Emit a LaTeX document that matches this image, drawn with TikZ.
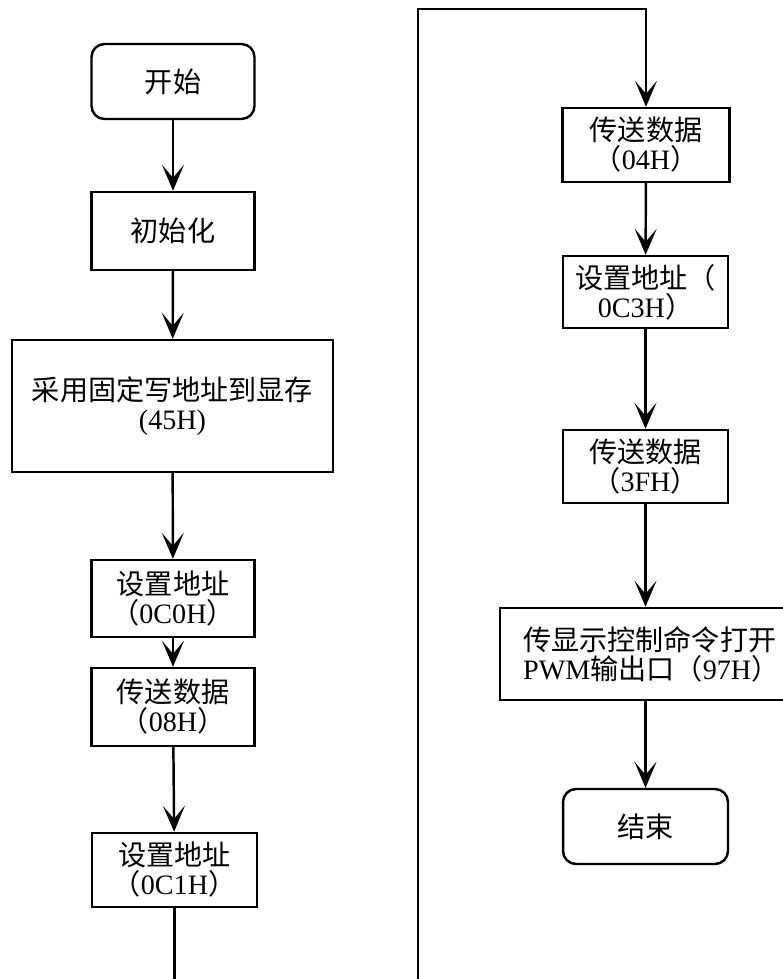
\documentclass[tikz,border=0pt]{standalone}
\usepackage{fontspec}
\setmainfont{Liberation Serif}
\newfontfamily\cjk{Noto Sans CJK SC}
\newcommand{\zh}[1]{{\cjk #1}}
\usetikzlibrary{arrows.meta}

\begin{document}
\begin{tikzpicture}[x=0.02cm,y=-0.02cm,
  box/.style={draw,line width=1.4pt,minimum width=3.26cm,minimum height=1.5cm,
    align=center,inner sep=2pt,font=\fontsize{16}{16.5}\selectfont},
  term/.style={box,rounded corners=0.26cm},
  flow/.style={line width=1.4pt,-{Stealth[length=0.52cm,width=0.44cm,inset=0.26cm]}},
  link/.style={line width=1.4pt}]
  \useasboundingbox (0,0) rectangle (782,979);

  % left column
  \node[term] (start) at (173,81.5) {\zh{开始}};
  \node[box,minimum height=1.56cm] (init) at (173,231) {\zh{初始化}};
  \node[box,minimum width=6.42cm,minimum height=2.64cm] (fix) at (172.5,406)
    {\zh{采用固定写地址到显存}\\(45H)};
  \node[box,minimum height=1.54cm] (adr0) at (173,598.5) {\zh{设置地址}\\\zh{（}0C0H\zh{）}};
  \node[box,minimum height=1.56cm] (dat08) at (173,707) {\zh{传送数据}\\\zh{（}08H\zh{）}};
  \node[box,minimum width=3.3cm,minimum height=1.48cm] (adr1) at (174.5,870) {\zh{设置地址}\\\zh{（}0C1H\zh{）}};
  \coordinate (lowL) at (174.5,979);

  % right column
  \coordinate (lowR) at (418,979);
  \coordinate (topL) at (418,9);
  \coordinate (topR) at (646,9);
  \node[box,minimum width=3.34cm,minimum height=1.48cm] (dat04) at (646,145) {\zh{传送数据}\\\zh{（}04H\zh{）}};
  \node[box,minimum width=3.3cm,minimum height=1.44cm] (adr3) at (645.5,292) {\zh{设置地址（}\\0C3H\zh{）}};
  \node[box,minimum width=3.3cm,minimum height=1.46cm] (dat3f) at (645.5,466.5) {\zh{传送数据}\\\zh{（}3FH\zh{）}};
  \node[box,anchor=west,minimum height=1.84cm,align=left,text width=5.2cm,inner xsep=0.46cm] (pwm) at (499,654)
    {\zh{传显示控制命令打开}\\PWM\zh{输出口（}97H\zh{）}};
  \node[term,minimum width=3.3cm] (stop) at (645.5,826.5) {\zh{结束}};

  \draw[flow] (start) -- (init);
  \draw[flow] (init) -- (fix);
  \draw[flow] (fix) -- (adr0);
  \draw[flow] (adr0) -- (dat08);
  \draw[flow] (dat08) -- (adr1);
  \draw[link] (adr1) -- (lowL);

  \draw[flow] (lowR) -- (topL) -- (topR) -- (dat04);
  \draw[flow] (dat04) -- (adr3);
  \draw[flow] (adr3) -- (dat3f);
  \draw[flow] (dat3f) -- (pwm.north -| dat3f);
  \draw[flow] (pwm.south -| stop) -- (stop);
\end{tikzpicture}
\end{document}
